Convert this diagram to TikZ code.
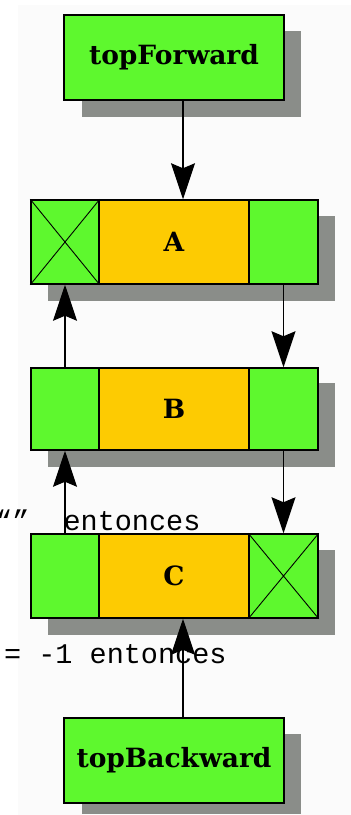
\documentclass[tikz,border=0pt]{standalone}
\usepackage{fontspec}
\newfontfamily\labfont{DejaVu Serif}
\newfontfamily\monofont{Liberation Mono}
\usetikzlibrary{arrows.meta}
\definecolor{boxgreen}{HTML}{5EF82E}
\definecolor{boxgold}{HTML}{FDCB02}
\definecolor{shadowgray}{HTML}{8A8D89}
\definecolor{panelbg}{HTML}{FBFBFB}
\tikzset{
  cell/.style={draw=black, line width=1.5pt, inner sep=0pt, minimum height=84pt},
  greencell/.style={cell, fill=boxgreen},
  goldcell/.style={cell, fill=boxgold},
  lab/.style={font=\labfont\bfseries\fontsize{26.5}{30}\selectfont},
  monotext/.style={font=\monofont\fontsize{28.5}{32}\selectfont, inner sep=0pt, anchor=base west},
  arr/.style={line width=1.4pt, -{Stealth[length=36pt, width=24pt, inset=5pt]}},
  cross/.style={line width=0.9pt},
  shadowbox/.style={fill=shadowgray}
}
\begin{document}
\begin{tikzpicture}[x=1pt,y=-1pt]
\useasboundingbox (0,0) rectangle (351,815);
\fill[white] (0,0) rectangle (351,815);
\fill[panelbg] (18,5) rectangle (351,815);
% shadows
\fill[shadowbox] (82,31) rectangle (301,117);
\fill[shadowbox] (48,216) rectangle (335,301);
\fill[shadowbox] (48,383) rectangle (335,467);
\fill[shadowbox] (48,550) rectangle (335,635);
\fill[shadowbox] (82,734) rectangle (301,814);
% top forward
\node[greencell, minimum width=220pt, minimum height=85pt, lab] (tf) at (174,57.5) {topForward};
% row A
\node[greencell, minimum width=68pt] (Al) at (65,242) {};
\node[goldcell, minimum width=150pt, lab] (Am) at (174,242) {A};
\node[greencell, minimum width=69pt] (Ar) at (283.5,242) {};
% row B
\node[greencell, minimum width=68pt, minimum height=82pt] (Bl) at (65,409) {};
\node[goldcell, minimum width=150pt, minimum height=82pt, lab] (Bm) at (174,409) {B};
\node[greencell, minimum width=69pt, minimum height=82pt] (Br) at (283.5,409) {};
% row C
\node[greencell, minimum width=68pt] (Cl) at (65,576) {};
\node[goldcell, minimum width=150pt, lab] (Cm) at (174,576) {C};
\node[greencell, minimum width=69pt] (Cr) at (283.5,576) {};
% top backward
\node[greencell, minimum width=220pt, minimum height=85pt, lab] (tb) at (174,760.5) {topBackward};
% crosses
\draw[cross] (Al.north west) -- (Al.south east) (Al.north east) -- (Al.south west);
\draw[cross] (Cr.north west) -- (Cr.south east) (Cr.north east) -- (Cr.south west);
% texts
\node[monotext] (t1) at (-5,530) {“”~~entonces};
\node[monotext] (t2) at (4,663) {= -1 entonces};
% arrows
\draw[arr] ([xshift=9pt]tf.south) -- ([xshift=9pt]Am.north);
\draw[arr] (Ar.south) -- (Br.north);
\draw[arr] (Br.south) -- (Cr.north);
\draw[arr] (Bl.north) -- (Al.south);
\draw[arr] (Cl.north) -- (Bl.south);
\draw[arr] ([xshift=9pt]tb.north) -- ([xshift=9pt]Cm.south);
\end{tikzpicture}
\end{document}
